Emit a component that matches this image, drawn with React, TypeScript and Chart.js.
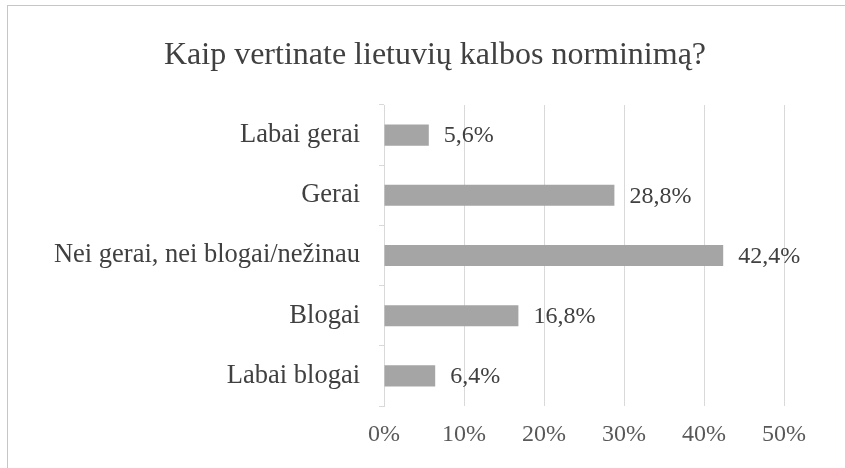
import React, { useEffect, useRef } from "react";
import { Chart, registerables } from "chart.js";

Chart.register(...registerables);

const title = "Kaip vertinate lietuvių kalbos norminimą?";
const categories = [
  "Labai gerai",
  "Gerai",
  "Nei gerai, nei blogai/nežinau",
  "Blogai",
  "Labai blogai",
];
const values = [5.6, 28.8, 42.4, 16.8, 6.4];
const xTicks = [0, 10, 20, 30, 40, 50];

const SERIF = "'Liberation Serif', 'Times New Roman', serif";

const decorPlugin = {
  id: "decor",
  beforeDraw(chart: any) {
    const ctx = chart.ctx;
    ctx.save();
    ctx.fillStyle = "#ffffff";
    ctx.fillRect(0, 0, chart.width, chart.height);
    ctx.strokeStyle = "#c6c6c6";
    ctx.lineWidth = 1;
    ctx.strokeRect(7.5, 5.5, chart.width + 20, chart.height + 20);
    ctx.font = `32px ${SERIF}`;
    ctx.fillStyle = "#404040";
    ctx.textAlign = "center";
    ctx.textBaseline = "alphabetic";
    ctx.fillText(title, 435, 64);
    ctx.restore();
  },
  afterDatasetsDraw(chart: any) {
    const ctx = chart.ctx;
    const meta = chart.getDatasetMeta(0);
    ctx.save();
    ctx.font = `24px ${SERIF}`;
    ctx.fillStyle = "#404040";
    ctx.textAlign = "left";
    ctx.textBaseline = "middle";
    meta.data.forEach((bar: any, i: number) => {
      const v = values[i];
      const txt = v.toFixed(1).replace(".", ",") + "%";
      ctx.fillText(txt, bar.x + 15, bar.y + 1);
    });
    ctx.restore();
  },
};

export default function App() {
  const ref = useRef<HTMLCanvasElement | null>(null);
  useEffect(() => {
    if (!ref.current) return;
    const chart = new Chart(ref.current, {
      type: "bar",
      data: {
        labels: categories,
        datasets: [
          {
            data: values,
            backgroundColor: "#a5a5a5",
            borderWidth: 0,
            barPercentage: 0.35,
            categoryPercentage: 1,
          },
        ],
      },
      options: {
        indexAxis: "y",
        responsive: false,
        animation: false,
        devicePixelRatio: 1,
        layout: { padding: { top: 105, left: 0, right: 61, bottom: 0 } },
        plugins: {
          legend: { display: false },
          title: { display: false },
          tooltip: { enabled: false },
        },
        scales: {
          x: {
            min: 0,
            max: 50,
            afterBuildTicks: (scale: any) => {
              scale.ticks = xTicks.map((v) => ({ value: v }));
            },
            afterFit: (scale: any) => {
              scale.height = 62;
            },
            grid: {
              color: "#d9d9d9",
              lineWidth: 1,
              drawTicks: false,
            },
            border: { display: false },
            ticks: {
              padding: 14,
              color: "#595959",
              font: { family: SERIF, size: 24 },
              callback: (v: any) => v + "%",
            },
          },
          y: {
            afterFit: (scale: any) => {
              scale.width = 384;
            },
            grid: {
              offset: true,
              drawOnChartArea: false,
              drawTicks: true,
              tickLength: 5,
              color: "#d9d9d9",
            },
            border: { display: true, color: "#d9d9d9" },
            ticks: {
              padding: 19,
              color: "#404040",
              font: { family: SERIF, size: 26.5 },
            },
          },
        },
      },
      plugins: [decorPlugin],
    });
    return () => chart.destroy();
  }, []);
  return (
    <div style={{ position: "fixed", left: 0, top: 0, width: 845, height: 468 }}>
      <canvas ref={ref} width={845} height={468} style={{ width: 845, height: 468 }} />
    </div>
  );
}
